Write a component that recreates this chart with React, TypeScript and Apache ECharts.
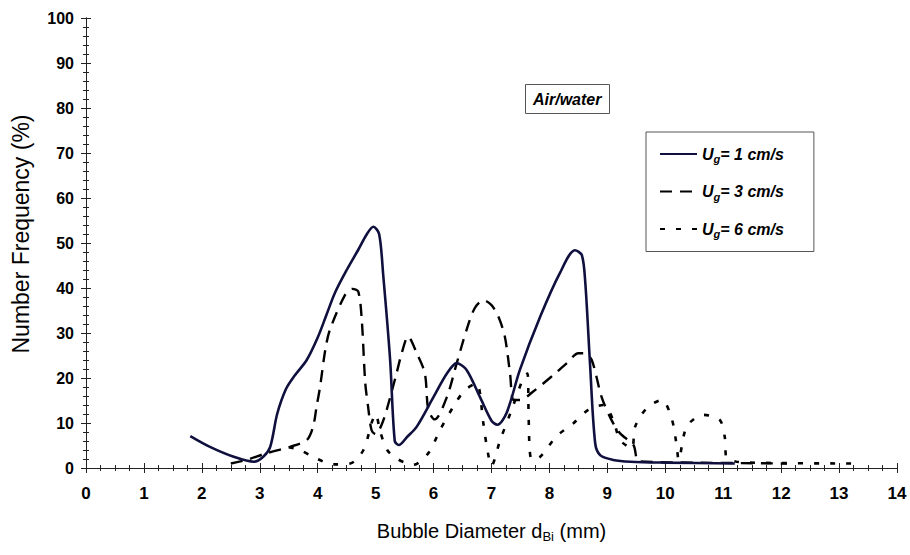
import React, { useEffect, useRef } from "react";
import * as echarts from "echarts";

// Ug = 1 cm/s (solid)
const ug1X = [1.8, 2.14, 2.55, 2.9, 3.06, 3.18, 3.3, 3.45, 3.6, 3.81, 4.0, 4.15, 4.3, 4.5, 4.7, 4.85, 4.96, 5.06, 5.13, 5.25, 5.33, 5.4, 5.55, 5.71, 6.0, 6.23, 6.4, 6.57, 6.8, 7.0, 7.1, 7.26, 7.49, 7.84, 8.18, 8.44, 8.56, 8.62, 8.7, 8.79, 8.88, 9.1, 9.4, 10.0, 11.2];
const ug1Y = [7.1, 4.7, 2.5, 1.4, 2.5, 4.7, 12, 17.5, 20.5, 24, 29, 34, 39, 44, 48.5, 52, 53.6, 52, 43, 24, 6, 5.1, 7, 9.2, 15.8, 21, 23.3, 21.8, 15.8, 10.5, 9.6, 12.2, 21.8, 33.6, 43.3, 48.4, 47.3, 41, 23.3, 5.5, 2.8, 1.8, 1.4, 1.2, 1.0];

// Ug = 3 cm/s (dashed)
const ug3X = [2.5, 2.77, 3.12, 3.52, 3.81, 3.92, 3.98, 4.04, 4.13, 4.21, 4.47, 4.6, 4.7, 4.76, 4.82, 4.87, 4.93, 5.0, 5.1, 5.19, 5.36, 5.45, 5.56, 5.71, 5.85, 5.91, 6.02, 6.23, 6.4, 6.57, 6.71, 6.86, 7.0, 7.12, 7.23, 7.32, 7.38, 7.49, 7.72, 8.07, 8.3, 8.5, 8.6, 8.73, 8.9, 9.07, 9.22, 9.45, 9.55, 10.5, 12.1];
const ug3Y = [1.0, 1.8, 3.3, 4.7, 6.2, 9.2, 13.6, 18, 26.2, 30.7, 38.4, 39.8, 39.2, 33, 19, 13.6, 8.4, 7.5, 9.5, 12.9, 21, 25.5, 29.2, 25.5, 21, 12.9, 10.8, 15.8, 23.3, 30.7, 35.5, 37.3, 36.2, 33.6, 29.2, 21, 15.1, 15.1, 17, 20.7, 23.3, 25.5, 25.5, 24, 15.8, 10.7, 7.7, 5.1, 1.5, 1.2, 1.0];

// Ug = 6 cm/s (dotted)
const ug6X = [3.5, 3.69, 3.98, 4.27, 4.56, 4.79, 4.93, 5.0, 5.08, 5.2, 5.36, 5.65, 5.91, 6.11, 6.34, 6.54, 6.74, 6.86, 6.92, 7.0, 7.15, 7.35, 7.55, 7.62, 7.64, 7.66, 7.7, 7.84, 8.12, 8.41, 8.67, 8.93, 9.1, 9.22, 9.42, 9.48, 9.68, 9.94, 10.11, 10.2, 10.23, 10.37, 10.66, 10.94, 11.03, 11.05, 11.23, 12.0, 13.25];
const ug6Y = [4.6, 4.0, 2.1, 0.8, 1.0, 4.0, 10, 12, 8, 4, 2.1, 0.7, 3.3, 8.4, 13.6, 17.3, 18.8, 9.9, 4.7, 0.5, 6.2, 13, 20, 21, 12, 4, 1.8, 2.5, 7, 9.9, 12.9, 14, 10.7, 6.2, 4.4, 9.2, 13.3, 15.1, 11, 4.7, 1.8, 9.2, 11.8, 10.7, 6.6, 2.5, 1.4, 1.1, 1.0];

const seriesNames = ["Ug1", "Ug3", "Ug6"];
const seriesSpeeds = ["1", "3", "6"];
const xTickLabels = ["0", "1", "2", "3", "4", "5", "6", "7", "8", "9", "10", "11", "12", "13", "14"];

const FONT = '"Liberation Sans", Arial, Helvetica, sans-serif';

const zip = (xs: number[], ys: number[]) => xs.map((x, i) => [x, ys[i]]);

export default function App() {
  const ref = useRef<HTMLDivElement>(null);
  useEffect(() => {
    if (!ref.current) return;
    const chart = echarts.init(ref.current, undefined, { renderer: "svg" });
    const axisColor = "#222";
    const baseX = {
      type: "value",
      min: 0,
      max: 14,
      interval: 1,
      splitLine: { show: false },
      axisLine: { show: true, lineStyle: { color: axisColor, width: 1 } },
      axisTick: { show: true, inside: true, length: 5, lineStyle: { color: axisColor } },
      minorTick: { show: true, splitNumber: 4, length: 3, lineStyle: { color: axisColor } },
    };
    const baseY = {
      type: "value",
      min: 0,
      max: 100,
      interval: 10,
      splitLine: { show: false },
      axisLine: { show: true, lineStyle: { color: axisColor, width: 1 } },
      axisTick: { show: true, inside: true, length: 5, lineStyle: { color: axisColor } },
      minorTick: { show: true, splitNumber: 5, length: 3, lineStyle: { color: axisColor } },
    };
    const option: any = {
      animation: false,
      backgroundColor: "#fff",
      grid: { left: 86, top: 18, width: 811, height: 450, outerBoundsMode: "none" },
      title: {
        text: "Air/water",
        left: 525,
        top: 84,
        padding: [7, 8, 7, 8],
        borderColor: "#555",
        borderWidth: 1,
        textStyle: { fontFamily: FONT, fontSize: 16, fontWeight: "bold", fontStyle: "italic", color: "#000" },
      },
      legend: {
        orient: "vertical",
        left: 646,
        top: 132,
        padding: [14, 30, 12, 13],
        itemWidth: 37,
        itemHeight: 14,
        itemGap: 19,
        borderColor: "#555",
        borderWidth: 1,
        itemStyle: { opacity: 0 },
        data: seriesNames,
        formatter: (name: string) => {
          const v = seriesSpeeds[seriesNames.indexOf(name)];
          return `{u|U}{s|g}{t|= ${v} cm/s}`;
        },
        textStyle: {
          rich: {
            u: { fontFamily: FONT, fontSize: 16, fontWeight: "bold", fontStyle: "italic", color: "#000" },
            s: { fontFamily: FONT, fontSize: 11, fontWeight: "bold", fontStyle: "italic", color: "#000", padding: [10, 0, 0, 0] },
            t: { fontFamily: FONT, fontSize: 16, fontWeight: "bold", fontStyle: "italic", color: "#000" },
          },
        },
      },
      xAxis: [
        {
          ...baseX,
          position: "bottom",
          axisLabel: {
            margin: 17,
            fontFamily: FONT,
            fontSize: 17,
            fontWeight: "bold",
            color: "#000",
            formatter: (v: number) => xTickLabels[Math.round(v)] ?? String(v),
          },
          name: "{a|Bubble Diameter d}{b|Bi}{a| (mm)}",
          nameLocation: "middle",
          nameGap: 50,
          nameTextStyle: {
            rich: {
              a: { fontFamily: FONT, fontSize: 20, color: "#000" },
              b: { fontFamily: FONT, fontSize: 13, color: "#000", padding: [12, 0, 0, 0] },
            },
          },
        },
        { ...baseX, position: "top", axisLabel: { show: false } },
      ],
      yAxis: [
        {
          ...baseY,
          position: "left",
          axisLabel: { margin: 12, fontFamily: FONT, fontSize: 16, fontWeight: "bold", color: "#000" },
          name: "Number Frequency (%)",
          nameLocation: "middle",
          nameGap: 54,
          nameTextStyle: { fontFamily: FONT, fontSize: 23, color: "#000", padding: [0, 0, 0, 18] },
        },
        { ...baseY, position: "right", axisLabel: { show: false } },
      ],
      series: [
        {
          name: "Ug1",
          type: "line",
          data: zip(ug1X, ug1Y),
          symbol: "none",
          smooth: 0.3,
          lineStyle: { color: "#10103f", width: 2.6, type: "solid" },
          itemStyle: { color: "#10103f" },
          z: 3,
        },
        {
          name: "Ug3",
          type: "line",
          data: zip(ug3X, ug3Y),
          symbol: "none",
          smooth: 0.3,
          lineStyle: { color: "#000", width: 2.4, type: [12, 8] },
          itemStyle: { color: "#000" },
          z: 2,
        },
        {
          name: "Ug6",
          type: "line",
          data: zip(ug6X, ug6Y),
          symbol: "none",
          smooth: 0.3,
          lineStyle: { color: "#000", width: 2.6, type: [5, 11] },
          itemStyle: { color: "#000" },
          z: 2,
        },
      ],
    };
    chart.setOption(option);
    return () => chart.dispose();
  }, []);
  return <div ref={ref} style={{ position: "absolute", left: 0, top: 0, width: 910, height: 555 }} />;
}
